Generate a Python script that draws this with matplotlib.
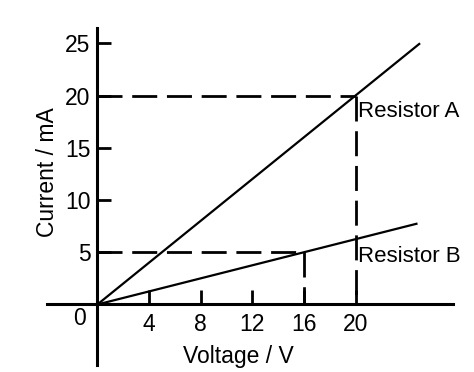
import matplotlib
matplotlib.use("Agg")
import matplotlib.pyplot as plt

plt.rcParams['font.family'] = ['Liberation Sans', 'DejaVu Sans']

# Data
x_ticks = [4, 8, 12, 16, 20]
y_ticks = [5, 10, 15, 20, 25]
resistor_a_v = [0, 25]
resistor_a_i = [0, 25]
resistor_b_v = [0, 24.8]
resistor_b_i = [0, 7.75]
a_point = (20, 20)
b_point = (16, 5)

W, H = 474, 372
fig = plt.figure(figsize=(W / 100, H / 100), dpi=100)
left_px, right_px, top_px, bottom_px = 47, 453, 28, 365
ax = fig.add_axes([left_px / W, 1 - bottom_px / H,
                   (right_px - left_px) / W, (bottom_px - top_px) / H])

ax.set_xlim(-3.9, 27.55)
ax.set_ylim(-5.79, 26.46)

for s in ['top', 'right']:
    ax.spines[s].set_visible(False)
for s in ['left', 'bottom']:
    ax.spines[s].set_position(('data', 0))
    ax.spines[s].set_linewidth(2.2)
    ax.spines[s].set_color('black')

ax.set_xticks(x_ticks)
ax.set_yticks(y_ticks)
ax.set_xticklabels([str(v) for v in x_ticks])
ax.set_yticklabels([str(v) for v in y_ticks])
ax.tick_params(axis='both', direction='in', length=10, width=2.0,
               labelsize=16.5, colors='black')
ax.tick_params(axis='x', pad=6)
ax.tick_params(axis='y', pad=5)

# data lines
ax.plot(resistor_a_v, resistor_a_i, color='black', lw=1.6, solid_capstyle='butt')
ax.plot(resistor_b_v, resistor_b_i, color='black', lw=1.6, solid_capstyle='butt')

dash = dict(color='black', lw=2.0, dashes=(9, 3.5))
ax.plot([0, a_point[0]], [a_point[1], a_point[1]], **dash)
ax.plot([a_point[0], a_point[0]], [a_point[1], 0], **dash)
ax.plot([0, b_point[0]], [b_point[1], b_point[1]], **dash)
ax.plot([b_point[0], b_point[0]], [b_point[1], 0], **dash)

ax.annotate('0', (0, 0), xytext=(-12.5, -10), textcoords='offset points',
            ha='center', va='center', fontsize=16.5)

ax.text(20.2, 18.5, 'Resistor A', fontsize=16, ha='left', va='center')
ax.text(20.2, 4.6, 'Resistor B', fontsize=16, ha='left', va='center')

fig.text(238 / W, 1 - 357 / H, 'Voltage / V', fontsize=16.5, ha='center', va='center')
fig.text(48 / W, 1 - 172 / H, 'Current / mA', fontsize=16.5, ha='center', va='center',
         rotation=90)

fig.savefig('out.png', dpi=100)
